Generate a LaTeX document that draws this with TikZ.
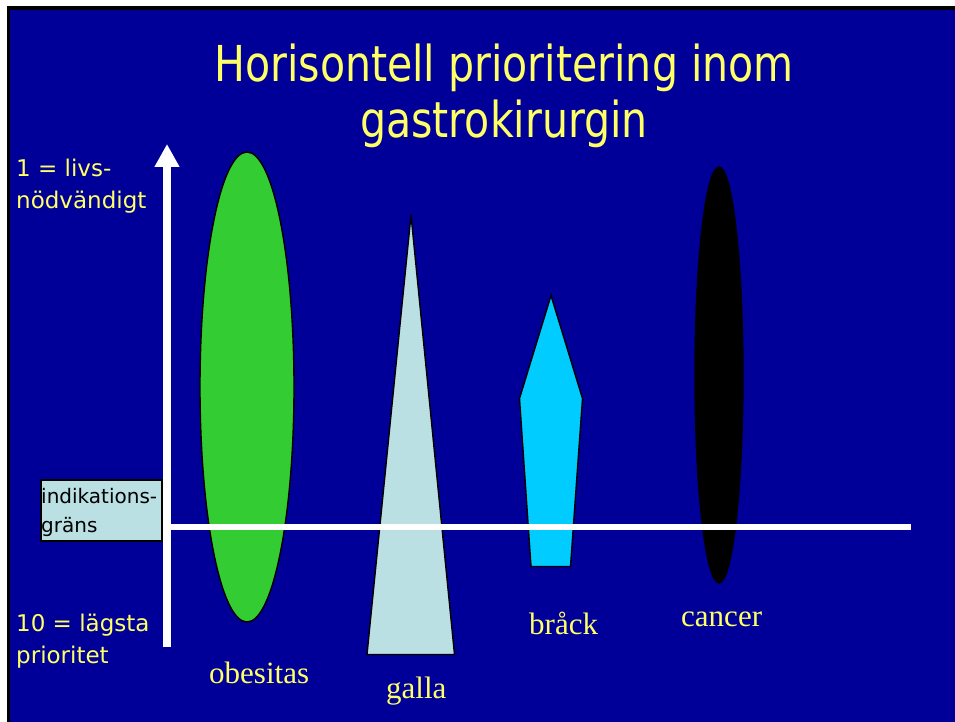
\documentclass[tikz,border=0pt]{standalone}
\usepackage{fontspec}
\setmainfont{Liberation Serif}
\newfontfamily\titlefont[FakeStretch=0.83]{DejaVu Sans}
\newfontfamily\labelfont{DejaVu Sans}
\usetikzlibrary{shapes.geometric,arrows.meta}
\definecolor{bgblue}{HTML}{000099}
\definecolor{ylw}{HTML}{FFFF66}
\definecolor{pale}{HTML}{BBE0E3}
\definecolor{grn}{HTML}{33CC33}
\definecolor{cyn}{HTML}{00CCFF}
\tikzset{
  titletext/.style={inner sep=0pt, anchor=base, text=ylw, font=\titlefont\fontsize{49.5}{56}\selectfont},
  sidetext/.style={inner sep=0pt, anchor=base west, text=ylw, font=\labelfont\fontsize{23}{31}\selectfont},
  boxtext/.style={inner sep=0pt, anchor=base west, text=black, font=\labelfont\fontsize{20}{29}\selectfont},
  nametext/.style={inner sep=0pt, anchor=base west, text=ylw, font=\rmfamily\fontsize{31}{36}\selectfont},
  shapeline/.style={draw=black, line width=1.4pt, line join=miter},
}
\begin{document}
\begin{tikzpicture}[x=1pt,y=-1pt]
\useasboundingbox (0,0) rectangle (955,722);
\fill[white] (0,0) rectangle (955,722);
\fill[black] (6.5,6.5) rectangle (955,722);
\fill[bgblue] (10,10) rectangle (955,722);

% title
\node[titletext] (t1) at (504,82) {Horisontell prioritering inom};
\node[titletext] (t2) at (504,138) {gastrokirurgin};

% side labels
\node[sidetext] (hi1) at (16,177) {1 = livs-};
\node[sidetext] (hi2) at (16,208) {nödvändigt};
\node[sidetext] (lo1) at (16,631) {10 = lägsta};
\node[sidetext] (lo2) at (16,663) {prioritet};

% indication box
\node[draw=black, line width=1.2pt, fill=pale, minimum width=121pt, minimum height=61pt, inner sep=0pt] (box) at (101.5,510.5) {};
\node[boxtext] (bx1) at (41,503) {indikations-};
\node[boxtext] (bx2) at (41,532) {gräns};

% shapes
\node[ellipse, shapeline, fill=grn, minimum width=94pt, minimum height=470pt, inner sep=0pt] (obes) at (247,387) {};
\draw[shapeline, fill=pale] (411,215) -- (454.5,654.5) -- (367,654.5) -- cycle;
\draw[shapeline, fill=cyn] (551,295.5) -- (582.5,398.5) -- (570.5,566.5) -- (531,566.5) -- (519.5,398.5) -- cycle;
\node[ellipse, shapeline, fill=black, minimum width=48pt, minimum height=416pt, inner sep=0pt] (canc) at (719,375) {};

% axis and threshold line
\coordinate (axbot) at (167,647);
\coordinate (axtop) at (167,144);
\coordinate (lnl) at (167,527);
\coordinate (lnr) at (911,527);
\draw[white, line width=8pt, -{Triangle[width=23.5pt,length=23pt]}] (axbot) -- (axtop);
\draw[white, line width=6pt] (lnl) -- (lnr);

% names
\node[nametext] (n1) at (209,683) {obesitas};
\node[nametext] (n2) at (386,698) {galla};
\node[nametext] (n3) at (529,634) {bråck};
\node[nametext] (n4) at (681,626) {cancer};
\end{tikzpicture}
\end{document}
